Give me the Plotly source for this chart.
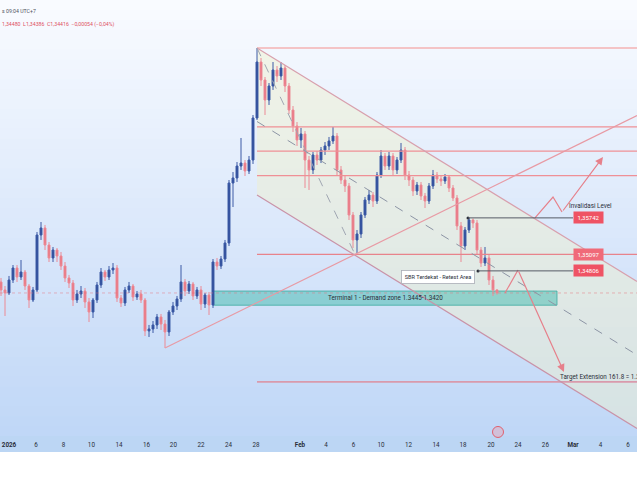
import plotly.graph_objects as go

# ---------------- data ----------------
opens = [1.34610, 1.34469, 1.34416, 1.34645, 1.34857, 1.34698, 1.34786, 1.34539, 1.34292, 1.34469,
         1.35440, 1.35564, 1.35263, 1.35034, 1.35175, 1.35069, 1.34892, 1.34681, 1.34592, 1.34292,
         1.34398, 1.34451, 1.34257, 1.34080, 1.34292, 1.34557, 1.34786, 1.34698, 1.34822, 1.34857,
         1.34327, 1.34239, 1.34469, 1.34539, 1.34345, 1.34398, 1.34292, 1.33745, 1.33780, 1.33851,
         1.33992, 1.33868, 1.33727, 1.34080, 1.34186, 1.34310, 1.34610, 1.34451, 1.34575, 1.34363,
         1.34469, 1.34221, 1.34380, 1.34204, 1.34963, 1.34892, 1.35016, 1.35299, 1.36358, 1.36447,
         1.36658, 1.36711, 1.36570, 1.36764, 1.37506, 1.38495, 1.38177, 1.37824, 1.38071, 1.38354,
         1.38248, 1.38389, 1.38071, 1.37647, 1.37365, 1.37118, 1.37224, 1.36764, 1.36588, 1.36853,
         1.36764, 1.36941, 1.37012, 1.37100, 1.37188, 1.36588, 1.36411, 1.36305, 1.35793, 1.35352,
         1.35458, 1.35793, 1.36058, 1.36146, 1.36040, 1.36500, 1.36835, 1.36658, 1.36835, 1.36588,
         1.36764, 1.36941, 1.36500, 1.36411, 1.36217, 1.36323, 1.36129, 1.36040, 1.36305, 1.36500,
         1.36429, 1.36394, 1.36464, 1.36270, 1.36093, 1.35599, 1.35246, 1.35528, 1.35705, 1.35652,
         1.35175, 1.34945, 1.35034, 1.34645, 1.34470]
highs = [1.34681, 1.34539, 1.34716, 1.34910, 1.34910, 1.34998, 1.34822, 1.34575, 1.34522, 1.35493,
         1.35669, 1.35617, 1.35316, 1.35228, 1.35210, 1.35140, 1.34963, 1.34734, 1.34645, 1.34469,
         1.34539, 1.34504, 1.34327, 1.34327, 1.34610, 1.34857, 1.34822, 1.34892, 1.34945, 1.34910,
         1.34380, 1.34522, 1.34610, 1.34575, 1.34451, 1.34469, 1.34327, 1.33851, 1.33921, 1.34045,
         1.34045, 1.33939, 1.34115, 1.34257, 1.34363, 1.34910, 1.34663, 1.34628, 1.34610, 1.34522,
         1.34539, 1.34416, 1.34433, 1.35016, 1.35034, 1.35069, 1.35352, 1.36411, 1.36552, 1.36729,
         1.37153, 1.36764, 1.36835, 1.37559, 1.38742, 1.38566, 1.38230, 1.38124, 1.38495, 1.38424,
         1.38495, 1.38442, 1.38124, 1.37718, 1.37435, 1.37330, 1.37277, 1.36835, 1.36906, 1.36923,
         1.36994, 1.37082, 1.37171, 1.37347, 1.37241, 1.36658, 1.36482, 1.36358, 1.35846, 1.35528,
         1.35846, 1.36111, 1.36235, 1.36199, 1.36552, 1.36941, 1.36888, 1.36906, 1.36888, 1.36817,
         1.37065, 1.36994, 1.36570, 1.36464, 1.36376, 1.36376, 1.36182, 1.36358, 1.36588, 1.36552,
         1.36482, 1.36517, 1.36500, 1.36323, 1.36146, 1.35669, 1.35581, 1.35742, 1.35730, 1.35705,
         1.35228, 1.35228, 1.35087, 1.34716, 1.34480]
lows = [1.34363, 1.34009, 1.34380, 1.34592, 1.34610, 1.34645, 1.34469, 1.34151, 1.34257, 1.34433,
        1.35352, 1.35175, 1.34963, 1.34963, 1.34963, 1.34822, 1.34610, 1.34504, 1.34186, 1.34239,
        1.34327, 1.34151, 1.33903, 1.33974, 1.34239, 1.34504, 1.34628, 1.34645, 1.34751, 1.34257,
        1.34168, 1.34186, 1.34416, 1.34274, 1.34292, 1.34239, 1.33656, 1.33639, 1.33709, 1.33780,
        1.33762, 1.33444, 1.33656, 1.34027, 1.34115, 1.34257, 1.34363, 1.34398, 1.34292, 1.34310,
        1.34115, 1.34151, 1.34027, 1.34151, 1.34822, 1.34839, 1.34963, 1.35246, 1.35934, 1.36376,
        1.36588, 1.36482, 1.36517, 1.36694, 1.37471, 1.38071, 1.37559, 1.37736, 1.38001, 1.38142,
        1.38177, 1.37965, 1.37577, 1.37259, 1.37012, 1.36976, 1.36270, 1.36235, 1.36517, 1.36676,
        1.36711, 1.36853, 1.36941, 1.37047, 1.36500, 1.36341, 1.36199, 1.35705, 1.35210, 1.35122,
        1.35387, 1.35740, 1.35987, 1.35934, 1.35987, 1.36447, 1.36588, 1.36588, 1.36500, 1.36517,
        1.36711, 1.36411, 1.36305, 1.36129, 1.36146, 1.36058, 1.35917, 1.35987, 1.36252, 1.36358,
        1.36305, 1.36341, 1.36199, 1.36040, 1.35528, 1.34963, 1.35175, 1.35475, 1.35564, 1.35104,
        1.34875, 1.34892, 1.34557, 1.34363, 1.34386]
closes = [1.34469, 1.34416, 1.34645, 1.34857, 1.34698, 1.34786, 1.34539, 1.34292, 1.34469, 1.35440,
          1.35564, 1.35263, 1.35034, 1.35175, 1.35069, 1.34892, 1.34681, 1.34592, 1.34292, 1.34398,
          1.34451, 1.34257, 1.34080, 1.34292, 1.34557, 1.34786, 1.34698, 1.34822, 1.34857, 1.34327,
          1.34239, 1.34469, 1.34539, 1.34345, 1.34398, 1.34292, 1.33745, 1.33780, 1.33851, 1.33992,
          1.33868, 1.33727, 1.34080, 1.34186, 1.34310, 1.34610, 1.34451, 1.34575, 1.34363, 1.34469,
          1.34221, 1.34380, 1.34204, 1.34963, 1.34892, 1.35016, 1.35299, 1.36358, 1.36447, 1.36658,
          1.36711, 1.36570, 1.36764, 1.37506, 1.38495, 1.38177, 1.37824, 1.38071, 1.38354, 1.38248,
          1.38389, 1.38071, 1.37647, 1.37365, 1.37118, 1.37224, 1.36764, 1.36588, 1.36853, 1.36764,
          1.36941, 1.37012, 1.37100, 1.37188, 1.36588, 1.36411, 1.36305, 1.35793, 1.35352, 1.35458,
          1.35793, 1.36058, 1.36146, 1.36040, 1.36500, 1.36835, 1.36658, 1.36835, 1.36588, 1.36764,
          1.36941, 1.36500, 1.36411, 1.36217, 1.36323, 1.36129, 1.36040, 1.36305, 1.36500, 1.36429,
          1.36394, 1.36464, 1.36270, 1.36093, 1.35599, 1.35246, 1.35528, 1.35705, 1.35652, 1.35175,
          1.34945, 1.35034, 1.34645, 1.34469, 1.34416]
bar_index = list(range(len(closes)))

tick_labels = ["2026", "6", "8", "10", "14", "16", "20", "22", "24", "28", "Feb", "4", "6",
               "10", "12", "14", "18", "20", "24", "26", "Mar", "4", "6"]
tick_bars = [2.0, 8.75, 15.6, 22.6, 29.5, 36.4, 43.1, 50.0, 56.9, 63.75, 74.75, 81.25, 88.1,
             95.0, 101.9, 108.75, 115.5, 122.5, 129.25, 136.1, 143.0, 149.9, 156.75]

fib_ratios = [0, 0.382, 0.5, 0.618, 1.0, 1.618]
fib_high = 1.38742
fib_low = 1.35097
demand_top = 1.3445
demand_bottom = 1.3420
invalidation_level = 1.35742
sbr_level = 1.34806
header_high, header_low, header_close, header_change = 1.34480, 1.34386, 1.34416, -0.00054

# analyst drawing anchors (bar index, price)
peak_bar = 64
swing_low_bar = 41
fib_low_bar = 88.5
channel_upper_end = 1.34619
channel_width = 0.02596
zigzag_down = [(126, 1.34416), (129.25, 1.34822), (140.75, 1.33020)]
zigzag_up = [(133.5, 1.35742), (138, 1.36111), (140.25, 1.35846), (150.5, 1.36817)]

# ---------------- figure ----------------
X0, X1 = -0.25, 159.0
Y0, Y1 = 1.31890, 1.39590

def fmt(v):
    return f"{v:.5f}".replace(".", ",")

fig = go.Figure()
shapes = []

# background gradient of the chart pane
n = 44
top_c, bot_c = (249, 251, 255), (192, 215, 247)
for i in range(n):
    t = i / (n - 1)
    c = tuple(round(bot_c[k] + (top_c[k] - bot_c[k]) * t) for k in range(3))
    shapes.append(dict(type="rect", xref="paper", yref="paper", x0=0, x1=1,
                       y0=i / n, y1=(i + 1) / n + 0.002, line=dict(width=0),
                       fillcolor=f"rgb{c}", layer="below"))
# time axis band
shapes.append(dict(type="rect", xref="paper", yref="paper", x0=0, x1=1, y0=-16 / 436, y1=0,
                   line=dict(width=0), fillcolor="#bcd6f4", layer="below"))

# parallel channel fill
up0, up1 = fib_high, channel_upper_end
lo0, lo1 = fib_high - channel_width, channel_upper_end - channel_width
shapes.append(dict(type="path", xref="x", yref="y",
                   path=f"M {peak_bar},{up0} L {X1},{up1} L {X1},{lo1} L {peak_bar},{lo0} Z",
                   line=dict(width=0), fillcolor="rgba(240,240,205,0.45)", layer="below"))
# demand zone
shapes.append(dict(type="rect", xref="x", yref="y", x0=53, x1=139, y0=demand_bottom, y1=demand_top,
                   line=dict(color="rgba(60,170,160,0.8)", width=1),
                   fillcolor="rgba(80,190,180,0.55)", layer="below"))

def line(x0, y0, x1, y1, color, width=1.2, dash="solid"):
    shapes.append(dict(type="line", xref="x", yref="y", x0=x0, y0=y0, x1=x1, y1=y1,
                       line=dict(color=color, width=width, dash=dash), layer="above"))

# current price dotted line
line(X0, header_close, X1, header_close, "rgba(230,110,120,0.45)", 1, "dot")

# fib levels
fib_rng = fib_high - fib_low
fib_styles = {0: ("#f4c4c6", 2.2), 0.382: ("#ef9096", 1.2), 0.5: ("#ef9096", 1.2),
              0.618: ("#ef9096", 1.2), 1.0: ("#e8838b", 1.3), 1.618: ("#d99aac", 1.8)}
for r in fib_ratios:
    p = fib_high - r * fib_rng
    col, w = fib_styles[r]
    line(peak_bar, p, X1, p, col, w)

# channel lines
line(peak_bar, up0, X1, up1, "#d8a0ad", 1.2)
line(peak_bar, lo0, X1, lo1, "#c993a8", 1.2)
line(peak_bar, up0 - channel_width / 2, X1, up1 - channel_width / 2, "#8d95a5", 1, "dash")
# fib trend (dashed)
line(peak_bar, fib_high, fib_low_bar, fib_low, "#a0a6b2", 1, "dash")
# rising trend line
tl_y0 = lows[swing_low_bar]
tl_slope = (fib_low - tl_y0) / (fib_low_bar - swing_low_bar)
line(swing_low_bar, tl_y0, X1, tl_y0 + tl_slope * (X1 - swing_low_bar), "#e89aa4", 1.2)

# gray horizontal levels
line(116.75, invalidation_level, 143, invalidation_level, "#555a66", 1)
line(119.25, sbr_level, 143, sbr_level, "#555a66", 1)

# candles
fig.add_trace(go.Candlestick(
    x=bar_index, open=opens, high=highs, low=lows, close=closes,
    increasing=dict(line=dict(color="#3d5ba6", width=1), fillcolor="#2b4a97"),
    decreasing=dict(line=dict(color="#ec8a95", width=1), fillcolor="#e8707d"),
    whiskerwidth=0, hoverinfo="skip", showlegend=False))

# dots at level starts
fig.add_trace(go.Scatter(x=[116.75, 119.25], y=[invalidation_level, sbr_level], mode="markers",
                         marker=dict(size=3, color="#2a2e39"), hoverinfo="skip", showlegend=False))

# projection zigzags
for pts in (zigzag_down, zigzag_up):
    xs = [p[0] for p in pts[:-1]]
    ys = [p[1] for p in pts[:-1]]
    fig.add_trace(go.Scatter(x=xs, y=ys, mode="lines", line=dict(color="#e6808b", width=1.2),
                             hoverinfo="skip", showlegend=False))

annotations = []
for pts in (zigzag_down, zigzag_up):
    (ax, ay), (x, y) = pts[-2], pts[-1]
    annotations.append(dict(x=x, y=y, ax=ax, ay=ay, xref="x", yref="y", axref="x", ayref="y",
                            text="", showarrow=True, arrowhead=2, arrowsize=1.3, arrowwidth=1.2,
                            arrowcolor="#e6808b"))

# event marker on the time axis
fig.add_trace(go.Scatter(x=[124.25], y=[1.31961], mode="markers",
                         marker=dict(size=11, color="rgba(244,150,160,0.35)",
                                     line=dict(color="#e0606e", width=1)),
                         cliponaxis=False, hoverinfo="skip", showlegend=False))

FONT = "Roboto"
# price labels
for val, bg in ((invalidation_level, "#ef5364"), (fib_low, "#f06a79"), (sbr_level, "#ef5364")):
    annotations.append(dict(x=146.75, y=val, xref="x", yref="y", text=fmt(val), showarrow=False,
                            font=dict(family=FONT, size=6, color="white"), bgcolor=bg,
                            width=26, height=8, borderpad=1.5))
annotations.append(dict(x=147.25, y=1.35952, xref="x", yref="y", text="Invalidasi Level",
                        showarrow=False, font=dict(family=FONT, size=6.3, color="#2a2e39")))
annotations.append(dict(x=109.25, y=1.34698, xref="x", yref="y", text="SBR Terdekat - Retest Area",
                        showarrow=False, font=dict(family=FONT, size=5.6, color="#2a2e39"),
                        bgcolor="white", bordercolor="#a9adb6", borderwidth=0.8, borderpad=3))
annotations.append(dict(x=(53 + 139) / 2, y=(demand_top + demand_bottom) / 2, xref="x", yref="y",
                        text=f"Terminal 1 - Demand zone {demand_top:.4f}-{demand_bottom:.4f}",
                        showarrow=False, font=dict(family=FONT, size=6.3, color="#2a2e39")))
annotations.append(dict(x=139.25, y=1.32932, xref="x", yref="y", xanchor="left",
                        text=f"Target Extension 161.8 = {fib_high - 1.618 * fib_rng:.4f}",
                        showarrow=False, font=dict(family=FONT, size=6.3, color="#2a2e39")))
# header
annotations.append(dict(x=0, y=1 - 6 / 436, xref="paper", yref="paper", xanchor="left",
                        text="s 09:04 UTC+7", showarrow=False,
                        font=dict(family=FONT, size=5.2, color="#50535e")))
annotations.append(dict(x=0, y=1 - 19 / 436, xref="paper", yref="paper", xanchor="left",
                        text=f"{fmt(header_high)}  L{fmt(header_low)}  C{fmt(header_close)}  "
                             f"\u2212{fmt(abs(header_change))} (\u22120,04%)",
                        showarrow=False, font=dict(family=FONT, size=5.2, color="#e0505f")))

tick_text = [f"<b>{t}</b>" if not t.isdigit() or len(t) == 4 else t for t in tick_labels]

fig.update_layout(
    width=637, height=478, margin=dict(l=0, r=0, t=0, b=42),
    paper_bgcolor="white", plot_bgcolor="white",
    shapes=shapes, annotations=annotations, showlegend=False,
    xaxis=dict(range=[X0, X1], tickvals=tick_bars, ticktext=tick_text, showgrid=False,
               zeroline=False, showline=False, ticks="", rangeslider=dict(visible=False),
               ticklabelstandoff=4,
               tickfont=dict(family=FONT, size=6.3, color="#2a2e39"), fixedrange=True),
    yaxis=dict(range=[Y0, Y1], visible=False, fixedrange=True),
)

fig.write_html("out.html", config={"displayModeBar": False},
               post_script="document.body.style.margin='0';document.body.style.padding='0';")
